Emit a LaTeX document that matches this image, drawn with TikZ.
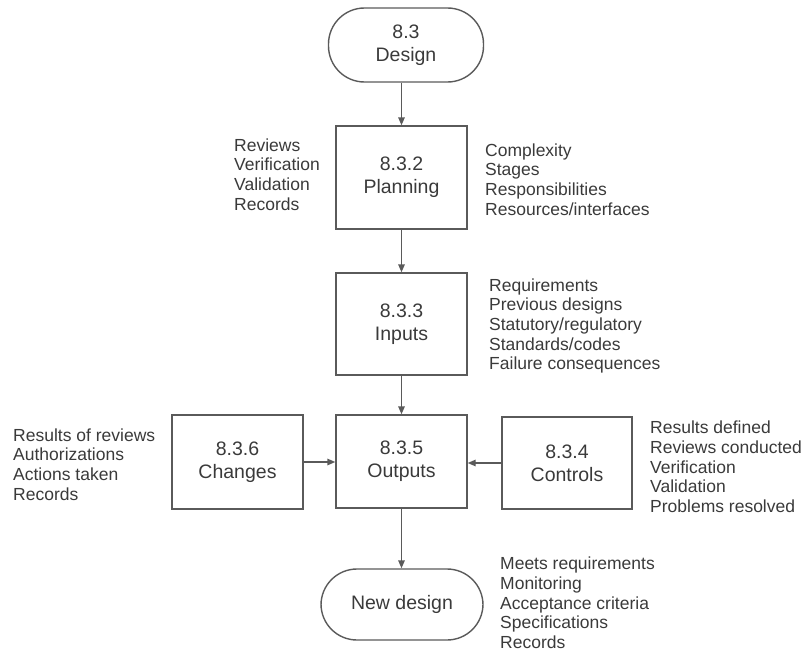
\documentclass[tikz,border=0pt]{standalone}
\usepackage{fontspec}
\setmainfont{Liberation Sans}
\usetikzlibrary{arrows.meta}
\definecolor{inkline}{HTML}{5A5A5A}
\definecolor{inktext}{HTML}{3A3A3A}
\begin{document}
\begin{tikzpicture}[x=1pt,y=-1pt,
  box/.style={draw=inkline,line width=1.4pt,rectangle,inner sep=0pt,
    minimum width=131pt,text=inktext,align=center,
    font=\fontsize{19.5}{23}\selectfont},
  term/.style={box,rounded corners=36pt},
  notes/.style={inner sep=0pt,anchor=west,align=left,text=inktext,
    font=\fontsize{17.5}{19.7}\selectfont},
  flow/.style={draw=inkline,line width=1.4pt,
    -{Triangle[length=8pt,width=6.5pt]}}]
\useasboundingbox (0,0) rectangle (803,653);

% main column
\node[term,minimum width=155pt,minimum height=74pt] (design) at (406,45) {8.3\\Design};
\node[box,minimum height=103pt] (planning) at (401.5,177.5) {8.3.2\\Planning};
\node[box,minimum height=102pt] (inputs) at (401.5,324) {8.3.3\\Inputs};
\node[box,minimum height=93pt] (outputs) at (401.5,461.5) {8.3.5\\Outputs};
\node[term,minimum width=162pt,minimum height=71pt] (newdesign) at (402,604.5) {New design};

% side boxes
\node[box,minimum height=94pt] (changes) at (237.5,462) {8.3.6\\Changes};
\node[box,minimum width=130pt,minimum height=92pt] (controls) at (567,463) {8.3.4\\Controls};

% connectors
\draw[flow] (design.south -| planning.north) -- (planning.north);
\draw[flow] (planning.south) -- (inputs.north);
\draw[flow] (inputs.south) -- (outputs.north);
\draw[flow] (outputs.south) -- (outputs.south |- newdesign.north);
\draw[flow] (changes.east) -- (changes.east -| outputs.west);
\draw[flow] (controls.west) -- (controls.west -| outputs.east);

% annotations
\node[notes] (planL) at (234,174.5) {Reviews\\Verification\\Validation\\Records};
\node[notes] (planR) at (485,179.5) {Complexity\\Stages\\Responsibilities\\Resources/interfaces};
\node[notes] (inR) at (489,326) {Requirements\\Previous designs\\Statutory/regulatory\\Standards/codes\\Failure consequences};
\node[notes] (chgL) at (13,464.5) {Results of reviews\\Authorizations\\Actions taken\\Records};
\node[notes] (ctlR) at (650,467) {Results defined\\Reviews conducted\\Verification\\Validation\\Problems resolved};
\node[notes] (newR) at (500,603) {Meets requirements\\Monitoring\\Acceptance criteria\\Specifications\\Records};
\end{tikzpicture}
\end{document}
